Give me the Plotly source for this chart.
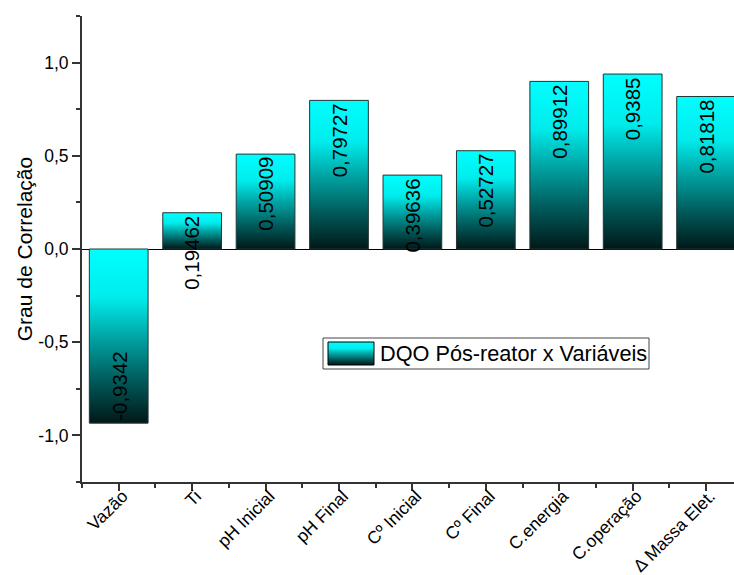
import plotly.graph_objects as go

# Correlation of post-reactor COD (DQO) with each process variable
categories = ["Vazão", "Ti", "pH Inicial", "pH Final", "Cº Inicial",
              "Cº Final", "C.energia", "C.operação", "Δ Massa Elet."]
values = [-0.9342, 0.19462, 0.50909, 0.79727, 0.39636,
          0.52727, 0.89912, 0.9385, 0.81818]
y_ticks = [-1.0, -0.5, 0.0, 0.5, 1.0]
series_name = "DQO Pós-reator x Variáveis"
y_title = "Grau de Correlação"

FONT = "Arial, 'Liberation Sans', sans-serif"
BAR_WIDTH = 0.8
GRADIENT = [[0.0, "#001818"], [0.25, "#005c5c"], [0.5, "#00a6a6"],
            [0.72, "#00ecec"], [1.0, "#00ffff"]]
AXIS_COLOR = "#333333"

W, H = 734, 575
M_L, M_R, M_T, M_B = 82, 0, 16, 93


def comma(v, fmt="{}"):
    """Decimal comma with a plain hyphen for negatives."""
    return fmt.format(v).replace(".", ",")


fig = go.Figure()

# bars as gradient-filled polygons on a numeric x axis (category i at x=i)
for i, v in enumerate(values):
    x0, x1 = i - BAR_WIDTH / 2, i + BAR_WIDTH / 2
    fig.add_trace(go.Scatter(
        x=[x0, x0, x1, x1, x0], y=[0, v, v, 0, 0],
        mode="lines", fill="toself",
        fillgradient=dict(type="vertical", colorscale=GRADIENT,
                          start=min(0, v), stop=max(0, v)),
        line=dict(color="#243434", width=1),
        showlegend=False, hoverinfo="skip",
    ))
    fig.add_annotation(
        x=i, y=v, text=comma(v), textangle=-90,
        showarrow=False, xanchor="center",
        yanchor="top" if v >= 0 else "bottom",
        yshift=-1 if v >= 0 else 0,
        font=dict(family=FONT, size=20.5, color="#000000"),
    )


# legend box drawn on an overlay axis spanning the plot area
def px_x(px):
    return (px - M_L) / (W - M_L - M_R)


def px_y(py):
    return (H - M_B - py) / (H - M_T - M_B)


fig.add_shape(type="rect", xref="paper", yref="paper",
              x0=px_x(323), x1=px_x(649), y0=px_y(369), y1=px_y(338),
              line=dict(color="#444444", width=1), fillcolor="white", layer="below")
sx0, sx1, sy0, sy1 = px_x(328), px_x(374), px_y(365), px_y(342)
fig.add_trace(go.Scatter(
    x=[sx0, sx0, sx1, sx1, sx0], y=[sy0, sy1, sy1, sy0, sy0],
    xaxis="x2", yaxis="y2", mode="lines", fill="toself",
    fillgradient=dict(type="vertical", colorscale=GRADIENT, start=sy0, stop=sy1),
    line=dict(color="#000000", width=1), showlegend=False, hoverinfo="skip",
))
fig.add_annotation(x=px_x(378), y=px_y(353.5), xref="paper", yref="paper",
                   text=series_name, showarrow=False, xanchor="left", yanchor="middle",
                   font=dict(family=FONT, size=21.7, color="#000000"))

fig.update_layout(
    width=W, height=H,
    margin=dict(l=M_L, r=M_R, t=M_T, b=M_B, autoexpand=False),
    paper_bgcolor="white", plot_bgcolor="white",
    showlegend=False,
    font=dict(family=FONT, color="#000000"),
    xaxis=dict(
        range=[-0.5, 8.38], tickmode="array",
        tickvals=list(range(len(categories))), ticktext=categories,
        tickangle=-45, tickfont=dict(family=FONT, size=17.5),
        ticklabelshift=4, ticklabelstandoff=-12,
        showline=True, linecolor=AXIS_COLOR, linewidth=2,
        ticks="outside", ticklen=7, tickwidth=1.5, tickcolor=AXIS_COLOR,
        minor=dict(tickmode="array",
                   tickvals=[i - 0.5 for i in range(len(categories) + 1)],
                   ticks="outside", ticklen=4, tickwidth=1.5, tickcolor=AXIS_COLOR),
        showgrid=False, zeroline=False, fixedrange=True,
    ),
    yaxis=dict(
        range=[-1.25, 1.25], tickmode="array",
        tickvals=y_ticks, ticktext=[comma(t, "{:.1f}") for t in y_ticks],
        tickfont=dict(family=FONT, size=17.5),
        title=dict(text=y_title, font=dict(family=FONT, size=21), standoff=0),
        showline=True, linecolor=AXIS_COLOR, linewidth=2,
        ticks="outside", ticklen=8, tickwidth=1.5, tickcolor=AXIS_COLOR,
        minor=dict(dtick=0.25, tick0=0, ticks="outside", ticklen=4,
                   tickwidth=1.5, tickcolor=AXIS_COLOR),
        showgrid=False, zeroline=True, zerolinecolor="#000000", zerolinewidth=1,
        fixedrange=True,
    ),
    xaxis2=dict(overlaying="x", range=[0, 1], visible=False, fixedrange=True),
    yaxis2=dict(overlaying="y", range=[0, 1], visible=False, fixedrange=True),
)

fig.write_html("out.html")
